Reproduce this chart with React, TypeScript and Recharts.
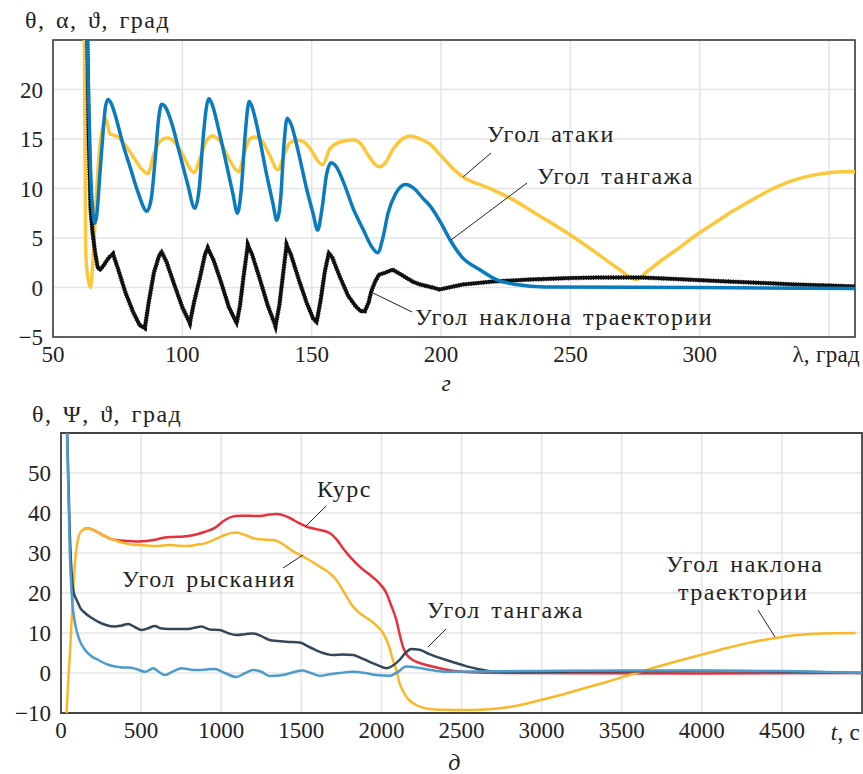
import React from "react";
import { LineChart, Line, XAxis, YAxis, CartesianGrid, ReferenceArea } from "recharts";

const FONT = "Liberation Serif, Times New Roman, Times, DejaVu Serif, serif";

// ---- top chart (г): λ, град ----
const topXTicks = [50, 100, 150, 200, 250, 300, 350];
const topYTicks = [-5, 0, 5, 10, 15, 20, 25];

// угол атаки
const alphaPts: [number, number][] = [
  [61.8, 40], [62.6, 5], [62.8, 2.8], [63.5, 1], [64.4, 0], [65.3, 2], [66.5, 8], [68, 14], [69.5, 16.5], [70.5, 17],
  [71.3, 16.2], [72, 15.5], [73.5, 15.4], [76, 15], [79, 14], [82, 12.8], [84.5, 11.9], [86.7, 11.5], [89, 13.5],
  [91.5, 14.8], [94, 15.1], [97, 14.7], [100, 13.5], [102.5, 12.2], [104.5, 11.6], [107, 13.2], [109.5, 14.9], [111.5, 15.3],
  [114.5, 14.8], [118, 13], [121.8, 11.7], [124, 13.6], [126, 15], [128, 15.2], [130.5, 14.9], [133.5, 13.5], [136.9, 11.9],
  [139.5, 13.5], [141.5, 14.6], [144.2, 14.9], [147, 14.7], [150, 13.8], [152.3, 12.8], [154.2, 12.4], [157, 14],
  [161, 14.7], [166, 14.9], [169, 14.5], [172, 13.3], [176, 12.2], [178.5, 12.6], [181.5, 14], [185, 15], [188, 15.3],
  [192, 15], [195.6, 14.5], [200, 13.3], [205.9, 11.7], [208.3, 11.2], [218, 10.1], [227.6, 8.9], [237, 7.4], [247, 5.8],
  [254, 4.6], [260, 3.5], [268, 2], [275.5, 0.8], [280, 1.7], [285.5, 2.8], [292, 4], [298.6, 5.3], [305, 6.4],
  [311.4, 7.5], [318, 8.5], [324, 9.4], [330, 10.2], [337, 10.9], [344, 11.35], [350, 11.6], [355, 11.7], [360, 11.7],
];

// угол тангажа
const pitchPts: [number, number][] = [
  [62.2, 40], [63.5, 22], [64.5, 12], [65.3, 8], [66.2, 6.5], [67, 7.5], [68, 11], [69.3, 15.5], [70.3, 18.3], [71.3, 19],
  [72.5, 18.6], [74.5, 17], [77, 14.5], [80, 12], [83, 9.5], [86.3, 7.7], [88, 9], [89.5, 13], [90.8, 17], [92, 18.5],
  [93.5, 18.2], [96, 16.5], [99, 13.5], [102, 10.5], [104.8, 8], [106.5, 10], [108, 15], [109.3, 18.2], [110.2, 19.1],
  [111.5, 18.5], [114, 16], [117, 12.5], [119.5, 9.5], [121.3, 7.5], [122.8, 10], [124.3, 15.5], [125.8, 18.8], [127, 18.2],
  [129.5, 15.5], [132.5, 11.5], [135, 8.5], [136.5, 6.8], [138, 9], [139.3, 14.5], [140.5, 17.1], [142, 16.5], [145, 13.5],
  [148, 10], [150.5, 7.5], [152.3, 5.8], [154, 8], [155.8, 11.5], [157.5, 12.6], [159.5, 12.2], [162.5, 10.5], [166, 8],
  [170, 5.8], [173, 4.2], [175.5, 3.5], [177.5, 5], [179.5, 7.5], [182.5, 9.5], [186.3, 10.4], [190, 9.9], [193, 9],
  [195.6, 8.3], [200, 6.5], [203.5, 4.8], [208, 3.1], [215, 1.8], [221.4, 0.8], [229, 0.3], [240, 0.05], [300, 0], [360, -0.1],
];

// угол наклона траектории
const thetaPts: [number, number][] = [
  [62.5, 40], [63.8, 15], [64.5, 8], [65.3, 5.5], [66.3, 3.5], [67.3, 2], [68.2, 1.8], [69.5, 2.2], [71.5, 3], [73.2, 3.4],
  [75, 2], [78, -0.5], [81, -2.5], [83.5, -3.8], [85.5, -4.1], [87, -1.5], [89, 1.5], [91, 3.2], [92, 3.6], [94, 2.5],
  [97, 0.2], [100, -2], [102.9, -3.6], [104.5, -1.5], [106.8, 1], [108.8, 3.4], [109.8, 4], [112, 2.8], [115, 0.5],
  [118, -2], [121, -3.6], [122.3, -1.8], [123.6, 1], [125.3, 4.3], [127, 3.3], [130, 0.8], [133, -1.8], [136, -3.9],
  [137.5, -1.8], [139, 1.5], [140.3, 4.3], [142, 3.3], [145, 0.8], [148, -1.5], [150.5, -3.1], [151.9, -3.5],
  [153.5, -1.2], [155, 1.5], [156.6, 3.5], [158, 3], [161, 1], [164, -0.8], [167, -1.9], [169, -2.4], [170.5, -2.4],
  [172, -1.5], [173, -0.4], [174.5, 0.6], [176, 1.3], [178.5, 1.5], [181.3, 1.8], [184, 1.4], [189, 0.6], [192, 0.3],
  [196.7, 0], [199.4, -0.2], [203, 0], [208.3, 0.3], [220, 0.6], [234, 0.8], [250, 0.95], [260, 1], [278, 1],
  [295, 0.8], [311, 0.6], [325, 0.45], [337, 0.3], [350, 0.2], [360, 0.1],
];

// ---- bottom chart (д): t, с ----
const botXTicks = [0, 500, 1000, 1500, 2000, 2500, 3000, 3500, 4000, 4500, 5000];
const botYTicks = [-10, 0, 10, 20, 30, 40, 50, 60];

// угол рыскания / угол наклона траектории (жёлтая)
const yawPts: [number, number][] = [
  [30, -14], [35, -10], [45, -2], [56, 5], [70, 16], [87, 27.5], [100, 32], [118, 35], [140, 35.9], [165, 36.2],
  [210, 35.6], [274, 34.2], [330, 33.3], [378, 32.6], [430, 32.2], [482, 32], [535, 31.9], [586, 31.75], [640, 31.9],
  [690, 32], [740, 31.8], [794, 31.75], [850, 32.1], [898, 32.4], [960, 33.4], [1022, 34.5], [1095, 35.1], [1150, 34.5],
  [1199, 33.7], [1260, 33.4], [1324, 33.25], [1370, 32.6], [1407, 31.6], [1450, 30.4], [1511, 29.1], [1560, 28],
  [1615, 26.6], [1670, 25.2], [1719, 23.25], [1770, 20], [1823, 16.6], [1870, 14.8], [1927, 13.25], [1970, 11.8],
  [2010, 10], [2045, 7], [2072, 3.25], [2095, 0.5], [2113, -2.5], [2135, -4.5], [2155, -5.9], [2185, -7.2],
  [2217, -8], [2260, -8.7], [2300, -9], [2400, -9.2], [2506, -9.25], [2650, -9.1], [2800, -8.5], [2950, -7.2],
  [3100, -5.7], [3250, -4], [3400, -2.3], [3550, -0.5], [3700, 1.3], [3850, 3], [4000, 4.6], [4150, 6.2],
  [4300, 7.6], [4450, 8.7], [4600, 9.5], [4750, 9.9], [4960, 10],
];

// курс
const coursePts: [number, number][] = [
  [140, 35.9], [165, 36.2], [210, 35.6], [274, 34.2], [330, 33.3], [378, 33.1], [430, 33], [482, 32.9], [535, 33],
  [586, 33.3], [648, 33.9], [700, 34], [794, 34.25], [850, 34.7], [898, 35.3], [960, 36.3], [1022, 38.2], [1070, 39.1],
  [1116, 39.3], [1180, 39.3], [1241, 39.25], [1300, 39.6], [1345, 39.75], [1390, 39.4], [1428, 38.75], [1480, 37.6],
  [1532, 36.6], [1600, 35.9], [1677, 35], [1720, 33.4], [1760, 31.2], [1810, 28.8], [1864, 26.6], [1920, 24.8],
  [1968, 23.2], [2031, 20], [2060, 17], [2093, 13.3], [2115, 9.5], [2134, 6.6], [2160, 4.5], [2196, 3.25],
  [2238, 2.5], [2300, 1.8], [2400, 0.9], [2506, 0.3], [2600, 0.1], [2800, 0], [4000, -0.1], [5000, 0],
];

// угол тангажа (тёмная)
const pitchBotPts: [number, number][] = [
  [35, 65], [55, 35], [68, 24], [80, 20], [98, 18.25], [120, 16.3], [150, 15], [190, 13.8], [233, 12.8], [280, 12],
  [337, 11.6], [380, 11.9], [420, 12.25], [460, 11.5], [503, 10.75], [545, 11.2], [586, 11.75], [620, 11.2],
  [669, 11], [730, 11], [794, 11], [840, 11.4], [877, 11.6], [930, 10.9], [991, 10.75], [1040, 10], [1095, 9.5],
  [1150, 9.7], [1199, 9.9], [1250, 9.2], [1303, 8.25], [1350, 8], [1407, 7.8], [1490, 7.6], [1550, 6.5],
  [1615, 5.3], [1698, 4.5], [1760, 4.6], [1823, 4.5], [1870, 3.8], [1927, 2.8], [1980, 1.9], [2031, 1.2],
  [2070, 1.8], [2113, 3.25], [2150, 5], [2186, 6], [2238, 5.8], [2300, 4.7], [2400, 3.3], [2506, 2], [2600, 1],
  [2716, 0.3], [2850, 0.2], [3200, 0.4], [4000, 0.5], [4500, 0.4], [5000, 0],
];

// светло-синяя
const lightPts: [number, number][] = [
  [35, 65], [55, 30], [70, 18], [85, 13], [98, 10.5], [120, 7.8], [150, 5.75], [190, 4.2], [233, 3.25], [285, 2.2],
  [337, 1.6], [380, 1.4], [420, 1.4], [470, 1], [524, 0.3], [550, 0.7], [576, 1.2], [610, 0.3], [648, -0.5],
  [700, 0.4], [752, 1.2], [800, 0.9], [856, 0.75], [910, 0.9], [960, 1], [1022, 0], [1095, -1], [1150, 0],
  [1199, 0.75], [1250, 0.3], [1303, -0.75], [1386, -0.5], [1450, 0.2], [1511, 0.6], [1560, 0], [1615, -0.7],
  [1680, -0.3], [1740, 0], [1823, 0.3], [1900, 0], [1968, -0.5], [2051, -0.7], [2100, 0.2], [2155, 1.6],
  [2238, 1.25], [2300, 0.8], [2400, 0.3], [2600, 0.4], [3000, 0.5], [3500, 0.6], [4000, 0.6], [4500, 0.5], [5000, 0],
];

const toRows = (pts: [number, number][]) => pts.map(([x, y]) => ({ x, y }));

const fmtNum = (v: number) => (v < 0 ? "\u2212" + Math.abs(v) : String(v));
const topXFmt = (v: number) => (v === 350 ? "" : String(v));
const topYFmt = (v: number) => (v === 25 ? "" : fmtNum(v));
const botXFmt = (v: number) => (v === 5000 ? "" : String(v));
const botYFmt = (v: number) => (v === 60 ? "" : fmtNum(v));

const tickStyle = { fill: "#222", fontSize: 23, fontFamily: FONT };
const labelStyle: React.CSSProperties = {
  fontFamily: FONT,
  fontSize: 24,
  fill: "#222",
  letterSpacing: 1.5,
  wordSpacing: 3,
};
const unitStyle: React.CSSProperties = { fontFamily: FONT, fontSize: 23, fill: "#222", letterSpacing: 0.3 };

const App = () => {
  return (
    <div style={{ position: "absolute", left: 0, top: 0, width: 863, height: 774, background: "#fff", fontFamily: FONT }}>
      <div style={{ position: "absolute", left: 0, top: 0 }}>
        <LineChart width={863} height={385} margin={{ top: 40, right: 8, bottom: 0, left: 0 }}>
          <CartesianGrid stroke="#e4e4e4" strokeWidth={1.5} />
          <XAxis
            type="number"
            dataKey="x"
            domain={[50, 360]}
            ticks={topXTicks}
            tickFormatter={topXFmt}
            height={48}
            tick={tickStyle}
            tickLine={false}
            tickSize={0}
            tickMargin={9}
            axisLine={false}
            allowDataOverflow
          />
          <YAxis
            type="number"
            domain={[-5, 25]}
            ticks={topYTicks}
            tickFormatter={topYFmt}
            width={53}
            tick={tickStyle}
            tickLine={false}
            tickSize={0}
            tickMargin={10}
            axisLine={false}
            allowDataOverflow
          />
          <ReferenceArea x1={50} x2={360} y1={-5} y2={25} fill="none" stroke="#333" strokeWidth={1.5} ifOverflow="visible" />
          <Line data={toRows(alphaPts)} dataKey="y" stroke="#fdc73a" strokeWidth={3.5} dot={false} type="monotone" isAnimationActive={false} />
          <Line data={toRows(thetaPts)} dataKey="y" stroke="#111" strokeWidth={3.5} dot={false} type="linear" isAnimationActive={false} />
          <Line data={toRows(thetaPts)} dataKey="y" stroke="#111" strokeWidth={4.5} strokeDasharray="1 1.5" dot={false} type="linear" isAnimationActive={false} />
          <Line data={toRows(pitchPts)} dataKey="y" stroke="#0a7bbf" strokeWidth={3.5} dot={false} type="monotone" isAnimationActive={false} />
        </LineChart>
      </div>

      <div style={{ position: "absolute", left: 0, top: 390 }}>
        <LineChart width={863} height={384} margin={{ top: 43, right: 1, bottom: 0, left: 0 }}>
          <CartesianGrid stroke="#e4e4e4" strokeWidth={1.5} />
          <XAxis
            type="number"
            dataKey="x"
            domain={[0, 5000]}
            ticks={botXTicks}
            tickFormatter={botXFmt}
            height={61}
            tick={tickStyle}
            tickLine={false}
            tickSize={0}
            tickMargin={9}
            axisLine={false}
            allowDataOverflow
          />
          <YAxis
            type="number"
            domain={[-10, 60]}
            ticks={botYTicks}
            tickFormatter={botYFmt}
            width={61}
            tick={tickStyle}
            tickLine={false}
            tickSize={0}
            tickMargin={10}
            axisLine={false}
            allowDataOverflow
          />
          <ReferenceArea x1={0} x2={5000} y1={-10} y2={60} fill="none" stroke="#444" strokeWidth={1.8} ifOverflow="visible" />
          <Line data={toRows(coursePts)} dataKey="y" stroke="#e8303a" strokeWidth={2.5} dot={false} type="monotone" isAnimationActive={false} />
          <Line data={toRows(yawPts)} dataKey="y" stroke="#fbb72a" strokeWidth={2.5} dot={false} type="monotone" isAnimationActive={false} />
          <Line data={toRows(pitchBotPts)} dataKey="y" stroke="#33475a" strokeWidth={2.5} dot={false} type="monotone" isAnimationActive={false} />
          <Line data={toRows(lightPts)} dataKey="y" stroke="#4b9ccd" strokeWidth={2.5} dot={false} type="monotone" isAnimationActive={false} />
        </LineChart>
      </div>

      <svg width={863} height={774} style={{ position: "absolute", left: 0, top: 0, pointerEvents: "none" }}>
        <text x={25} y={28} style={labelStyle}>θ, α, ϑ, град</text>
        <text x={860} y={362} textAnchor="end" style={unitStyle}>λ, град</text>
        <text x={447} y={391} textAnchor="middle" style={{ ...labelStyle, fontStyle: "italic" }}>г</text>

        <text x={487} y={142} style={labelStyle}>Угол атаки</text>
        <line x1={491} y1={153} x2={463} y2={177} stroke="#222" strokeWidth={1} />
        <text x={537} y={184} style={labelStyle}>Угол тангажа</text>
        <line x1={527} y1={183} x2={451} y2={240} stroke="#222" strokeWidth={1} />
        <text x={415} y={325} style={labelStyle}>Угол наклона траектории</text>
        <line x1={373} y1={293} x2={412} y2={312} stroke="#222" strokeWidth={1} />

        <text x={32} y={422} style={labelStyle}>θ, Ψ, ϑ, град</text>
        <text x={860} y={740} textAnchor="end" style={unitStyle}>
          <tspan fontStyle="italic">t</tspan>, с
        </text>
        <text x={455} y={770} textAnchor="middle" style={{ ...labelStyle, fontStyle: "italic" }}>д</text>

        <text x={317} y={497} style={labelStyle}>Курс</text>
        <line x1={326} y1={506} x2={306} y2={526} stroke="#222" strokeWidth={1} />
        <text x={122} y={587} style={labelStyle}>Угол рыскания</text>
        <line x1={303} y1={555} x2={283} y2={568} stroke="#222" strokeWidth={1} />
        <text x={427} y={618} style={labelStyle}>Угол тангажа</text>
        <line x1={446} y1={629} x2={428} y2={647} stroke="#222" strokeWidth={1} />
        <text x={666} y={572} style={labelStyle}>Угол наклона</text>
        <text x={678} y={600} style={labelStyle}>траектории</text>
        <line x1={758} y1={610} x2={775} y2={637} stroke="#222" strokeWidth={1} />
      </svg>
    </div>
  );
};

export default App;
